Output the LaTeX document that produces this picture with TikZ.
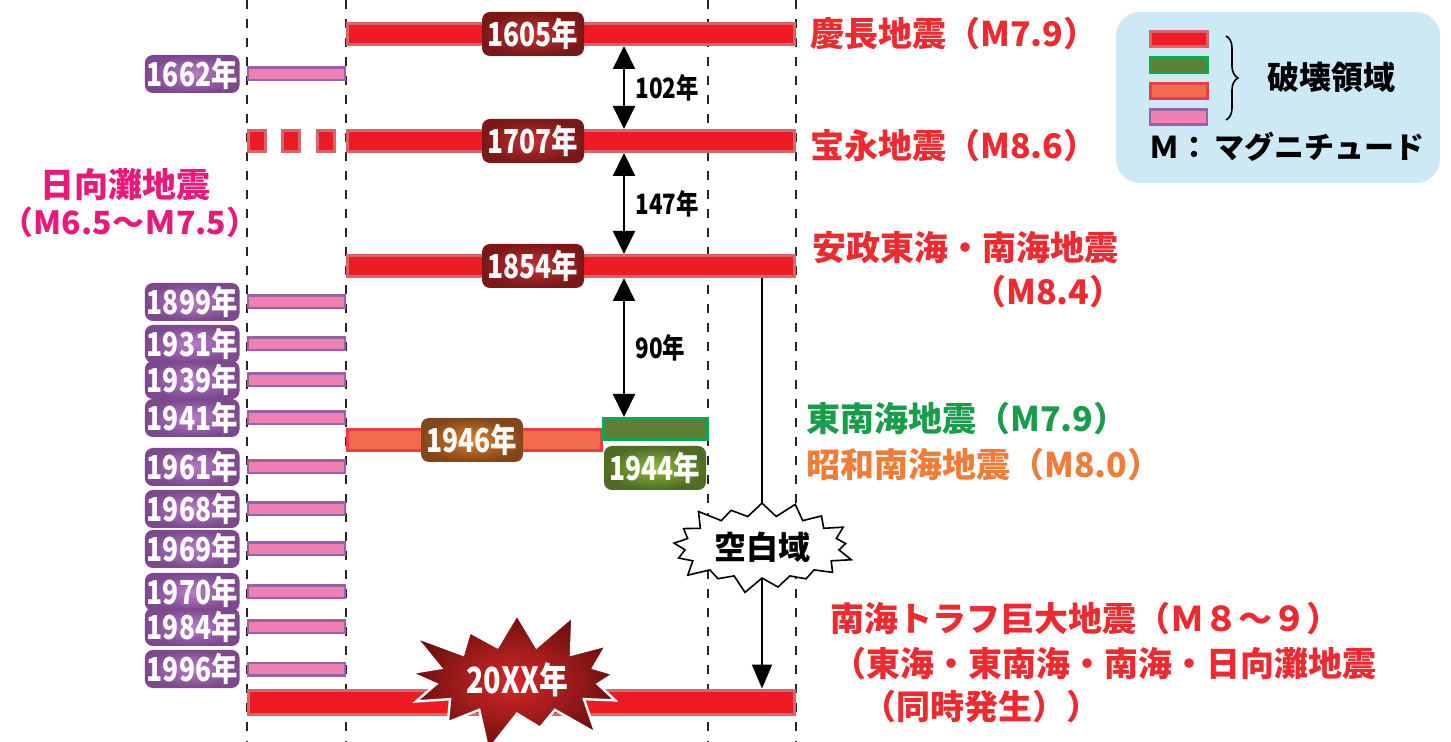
\documentclass[tikz,border=0pt]{standalone}
\usepackage{fontspec}
\setmainfont{Noto Sans CJK JP}
\newfontfamily\yearfont[FakeStretch=0.8]{Noto Sans CJK JP}
\usetikzlibrary{positioning,arrows.meta,shapes.symbols,decorations.pathreplacing}

\definecolor{quakered}{HTML}{ED1C24}
\definecolor{quakeedge}{HTML}{D9646A}
\definecolor{hyuga}{HTML}{F080B4}
\definecolor{hyugaedge}{HTML}{9564A4}
\definecolor{showa}{HTML}{F26B4D}
\definecolor{showaedge}{HTML}{EF3B44}
\definecolor{tonan}{HTML}{617E37}
\definecolor{tonanedge}{HTML}{10A84D}
\definecolor{labred}{HTML}{EC2A30}
\definecolor{labgreen}{HTML}{1A9D4A}
\definecolor{laborange}{HTML}{F07C38}
\definecolor{labpink}{HTML}{E8197A}
\definecolor{legendbg}{HTML}{CDE9F5}

\tikzset{
  guide/.style={black!85, line width=1pt, dash pattern=on 4.5pt off 5pt},
  redbar/.style={draw=quakeedge, fill=quakered, line width=1.5pt, minimum height=10.5pt, inner sep=0, anchor=west},
  pinkbar/.style={draw=hyugaedge, fill=hyuga, line width=1.2pt, minimum height=6.3pt, minimum width=48.3pt, inner sep=0, anchor=west},
  orangebar/.style={redbar, draw=showaedge, fill=showa},
  greenbar/.style={redbar, draw=tonanedge, fill=tonan},
  yearbox/.style={rounded corners=4pt, text=white, inner sep=1pt, minimum width=51pt, minimum height=22pt,
    font=\yearfont\bfseries\fontsize{16.5}{16}\selectfont},
  redyear/.style={yearbox, shade, inner color={rgb,255:red,196;green,50;blue,50}, outer color={rgb,255:red,122;green,24;blue,24}},
  purpleyear/.style={yearbox, minimum width=46pt, minimum height=19pt, shade,
    inner color={rgb,255:red,184;green,124;blue,200}, outer color={rgb,255:red,124;green,72;blue,142}},
  brownyear/.style={yearbox, shade, inner color={rgb,255:red,222;green,128;blue,44}, outer color={rgb,255:red,130;green,70;blue,26}},
  greenyear/.style={yearbox, shade, inner color={rgb,255:red,140;green,186;blue,58}, outer color={rgb,255:red,78;green,108;blue,34}},
  lab/.style={anchor=west, inner sep=0, font=\bfseries\fontsize{17}{20}\selectfont},
  interval/.style={line width=1pt, arrows={Triangle[width=11pt,length=11.5pt]-Triangle[width=11pt,length=11.5pt]}},
  gaplabel/.style={right=2pt, font=\yearfont\bfseries\fontsize{14}{14}\selectfont},
}

\begin{document}
\begin{tikzpicture}[x=0.5pt, y=-0.5pt]
  \useasboundingbox (0,0) rectangle (1451,742);

  \foreach \gx in {247,346,708,796}
    \draw[guide] (\gx,0) -- (\gx,742);

  \node[redbar, minimum width=223.5pt] (b1605) at (346,34) {};
  \node[redbar, minimum width=223.5pt] (b1707) at (346,141) {};
  \foreach \dx [count=\i] in {247,281,316}
    \node[redbar, minimum width=8.5pt] (dot\i) at (\dx,141) {};
  \node[redbar, minimum width=223.5pt] (b1854) at (346,266) {};
  \node[redbar, minimum width=273pt, minimum height=12pt] (b20xx) at (247,702) {};
  \node[orangebar, minimum width=127pt] (b1946) at (346,440) {};
  \node[greenbar, minimum width=52pt] (b1944) at (602,429) {};

  \foreach \yr/\yy in {1662/74,1899/302,1931/344,1939/380,1941/418,1961/467,1968/509,1969/549,1970/592,1984/627,1996/669}{
    \node[pinkbar] (p\yr) at (247,\yy) {};
    \node[purpleyear, left=3.5pt of p\yr] (l\yr) {\yr 年};
  }

  \node[redyear] (y1605) at (533,34) {1605年};
  \node[redyear] (y1707) at (533,141) {1707年};
  \node[redyear] (y1854) at (533,266) {1854年};
  \node[brownyear] (y1946) at (472,440) {1946年};
  \node[greenyear] (y1944) at (655,468) {1944年};

  \coordinate (xa) at (624,0);
  \coordinate (xb) at (762,0);
  \draw[interval] (b1605.south -| xa) -- (b1707.north -| xa) node[midway, gaplabel] {102年};
  \draw[interval] (b1707.south -| xa) -- (b1854.north -| xa) node[midway, gaplabel] {147年};
  \draw[interval] (b1854.south -| xa) -- (b1944.north -| xa) node[midway, gaplabel] {90年};
  \draw[line width=1pt, -{Triangle[width=10pt,length=12pt]}] (b1854.south -| xb) -- (b20xx.north -| xb);

  \node[starburst, starburst points=17, starburst point height=9pt, minimum width=93pt, minimum height=42pt,
    fill=white, draw=black, line width=0.8pt, font=\bfseries\fontsize{16}{16}\selectfont] (blank) at (762,547) {空白域};
  \node[starburst, starburst points=13, starburst point height=22pt, minimum width=96pt, minimum height=58pt,
    shade, inner color={rgb,255:red,214;green,40;blue,40}, outer color={rgb,255:red,110;green,16;blue,16},
    draw=white, line width=1.2pt, text=white, font=\yearfont\bfseries\fontsize{18}{18}\selectfont] (boom) at (517,680) {20XX年};

  \node[lab, text=labred] (keicho) at (810,34) {慶長地震（M7.9）};
  \node[lab, text=labred] (hoei) at (810,146) {宝永地震（M8.6）};
  \node[lab, text=labred] (ansei) at (812,248) {安政東海・南海地震};
  \node[lab, text=labred] (ansei2) at (972,292) {（M8.4）};
  \node[lab, text=labgreen] (tonankai) at (806,419) {東南海地震（M7.9）};
  \node[lab, text=laborange] (showa) at (806,465) {昭和南海地震（M8.0）};
  \node[lab, text=labred] (trough1) at (830,619) {南海トラフ巨大地震（Ｍ８～９）};
  \node[lab, text=labred] (trough2) at (832,664) {（東海・東南海・南海・日向灘地震};
  \node[lab, text=labred] (trough3) at (862,707) {（同時発生））};
  \node[lab, anchor=center, text=labpink] (hyuga1) at (125,185) {日向灘地震};
  \node[lab, anchor=center, text=labpink, font=\bfseries\fontsize{16}{20}\selectfont] (hyuga2) at (130,222) {（M6.5～Ｍ7.5）};

  \fill[legendbg, rounded corners=12pt] (1116,12) rectangle (1440,183);
  \node[redbar, minimum width=28.5pt, minimum height=7.5pt] (kred) at (1149,39) {};
  \node[greenbar, minimum width=28.5pt, minimum height=7.5pt] (kgreen) at (1149,65) {};
  \node[orangebar, minimum width=28.5pt, minimum height=7.5pt] (korange) at (1149,91) {};
  \node[pinkbar, minimum width=28.5pt, minimum height=7.5pt] (kpink) at (1149,117) {};
  \draw[line width=0.8pt, decorate, decoration={brace, amplitude=6pt}] (1226,36) -- (1226,120);
  \node[anchor=west, font=\bfseries\fontsize{16}{16}\selectfont] (kdest) at (1260,77) {破壊領域};
  \node[anchor=west, font=\bfseries\fontsize{15}{16}\selectfont] (kmag) at (1142,147) {Ｍ：\,マグニチュード};
\end{tikzpicture}
\end{document}
